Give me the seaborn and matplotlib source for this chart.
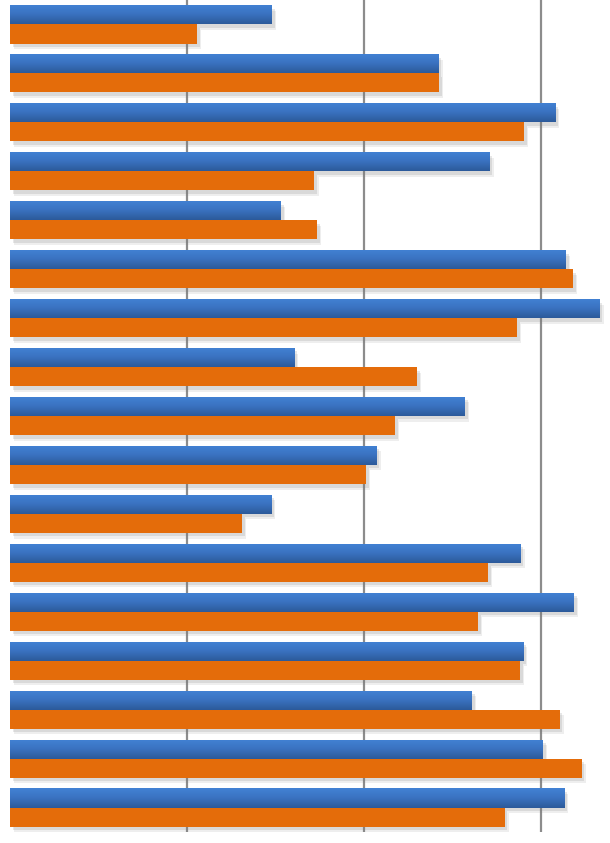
import numpy as np
import pandas as pd
import seaborn as sns
import matplotlib.pyplot as plt
import matplotlib.patheffects as pe
from matplotlib.colors import LinearSegmentedColormap

# 类别（图中没有标签，用占位名）
categories = ['C1', 'C2', 'C3', 'C4', 'C5', 'C6', 'C7', 'C8', 'C9',
              'C10', 'C11', 'C12', 'C13', 'C14', 'C15', 'C16', 'C17']
series_1 = [29.6, 48.4, 61.6, 54.2, 30.6, 62.8, 66.6, 32.1, 51.4,
            41.4, 29.5, 57.7, 63.7, 58.0, 52.2, 60.2, 62.6]
series_2 = [21.1, 48.5, 58.1, 34.4, 34.7, 63.6, 57.3, 46.0, 43.5,
            40.2, 26.2, 54.0, 52.9, 57.6, 62.1, 64.6, 55.9]
grid_ticks = [20, 40, 60]

df = pd.DataFrame({
    'category': categories * 2,
    'value': series_1 + series_2,
    'series': ['Series 1'] * len(categories) + ['Series 2'] * len(categories),
})

sns.set_style('white')
fig = plt.figure(figsize=(6.1, 8.43), dpi=100)
ax = fig.add_axes([10 / 610, (843 - 832) / 843, 598 / 610, 832 / 843])

sns.barplot(data=df, x='value', y='category', hue='series', orient='h',
            palette=['#3a72c0', '#e46c0a'], saturation=1, width=0.78,
            dodge=True, legend=False, ax=ax, zorder=3)

ax.set_xlim(0, 598 / 8.85)
ax.set_ylim(len(categories) - 0.5, -0.5)

# 蓝色条的渐变 + 柔和阴影
blue_grad = LinearSegmentedColormap.from_list('bg', ['#4282d4', '#3a72c0', '#2c5a9a'])
grad = np.linspace(0, 1, 64).reshape(-1, 1)
bars = list(ax.patches)
for i, p in enumerate(bars):
    p.set_linewidth(0)
    p.set_path_effects([pe.SimplePatchShadow(offset=(3, -4), shadow_rgbFace='#7a7a7a', alpha=0.12),
                        pe.SimplePatchShadow(offset=(2, -2.5), shadow_rgbFace='#7a7a7a', alpha=0.18),
                        pe.Normal()])
    if i < len(categories):
        x0, y0 = p.get_x(), p.get_y()
        w, h = p.get_width(), p.get_height()
        im = ax.imshow(grad, cmap=blue_grad, aspect='auto', origin='upper',
                       extent=(x0, x0 + w, y0 + h, y0), zorder=3.5)
        im.set_clip_path(p)

ax.set_xlim(0, 598 / 8.85)
ax.set_ylim(len(categories) - 0.5, -0.5)
ax.set_xticks(grid_ticks)
ax.xaxis.grid(True, color='#8c8c8c', linewidth=1.6, zorder=0)
ax.set_axisbelow(True)
ax.tick_params(left=False, bottom=False, labelleft=False, labelbottom=False)
ax.set_xlabel('')
ax.set_ylabel('')
for s in ax.spines.values():
    s.set_visible(False)

fig.savefig('out.png', dpi=100)
